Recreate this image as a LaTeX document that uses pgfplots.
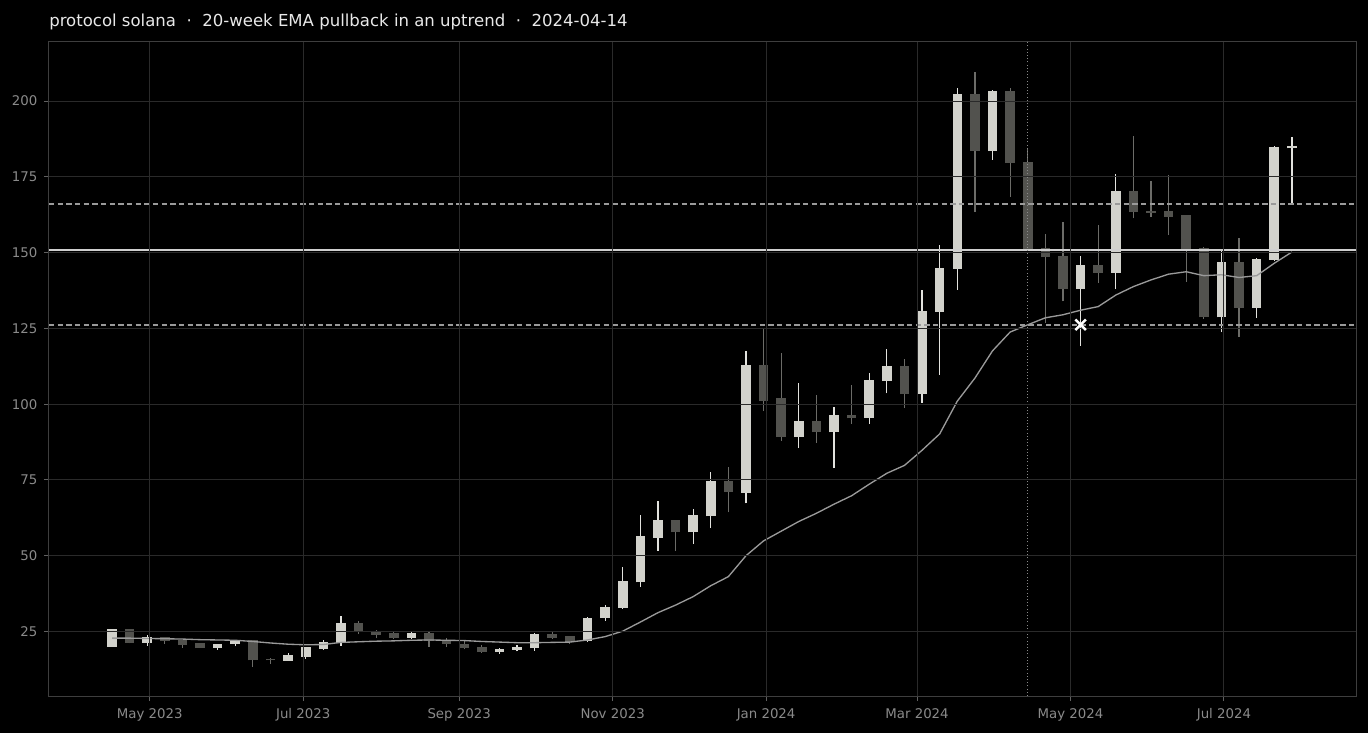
\documentclass[border=0pt]{standalone}
\usepackage{fontspec}
\setmainfont{DejaVu Sans}
\usepackage{pgfplots}
\usepackage{pgfplotstable}
\pgfplotsset{compat=1.18}
\definecolor{bgc}{HTML}{000000}
\definecolor{upc}{HTML}{D2D2CC}
\definecolor{upw}{HTML}{E2E2DE}
\definecolor{dnc}{HTML}{52524E}
\definecolor{dnw}{HTML}{6C6C68}
\definecolor{gridc}{HTML}{2A2A2A}
\definecolor{spinec}{HTML}{3E3E3E}
\definecolor{tickc}{HTML}{8A8A8A}
\definecolor{emac}{HTML}{9A9A9A}
\definecolor{refc}{HTML}{CFCFCF}
\definecolor{dashc}{HTML}{9A9A9A}
\definecolor{titlec}{HTML}{E8E8E8}

% week index, open, high, low, close  (up candles)
\pgfplotstableread{
i o h l c
0 20.0 25.9 20.0 25.7
2 21.3 23.9 20.3 23.1
6 19.5 21.0 18.9 21.0
7 20.8 22.2 20.1 22.1
10 15.4 17.8 15.4 17.1
11 16.6 20.0 16.0 19.9
12 19.3 22.2 18.9 21.6
13 21.3 30.0 20.3 27.7
17 23.0 25.1 22.5 24.5
22 18.2 19.6 17.6 19.1
23 18.9 20.5 18.4 19.9
24 19.4 24.6 18.6 24.1
27 21.7 29.9 21.5 29.4
28 29.4 33.8 28.6 33.0
29 32.7 46.2 32.5 41.6
30 41.2 63.4 39.8 56.4
31 56.0 67.9 51.7 61.7
33 57.7 65.3 53.8 63.4
34 63.0 77.6 59.1 74.7
36 70.8 117.4 67.3 112.9
39 89.1 106.9 85.5 94.4
41 90.7 99.2 78.9 96.4
43 95.4 110.4 93.4 108.0
44 107.6 118.2 103.6 112.5
46 103.3 137.6 100.4 130.7
47 130.5 152.5 109.7 144.9
48 144.7 204.3 137.7 202.3
50 183.5 203.5 180.6 203.2
55 138.0 149.0 119.3 145.9
57 143.4 175.9 138.0 170.4
63 128.6 150.8 123.8 146.9
65 131.7 148.3 128.4 147.9
66 147.5 185.2 147.3 184.8
67 184.4 188.1 166.1 185.1
}\upt

% down candles
\pgfplotstableread{
i o h l c
1 25.7 25.8 21.1 21.3
3 23.1 23.3 21.0 21.8
4 22.3 22.3 19.7 20.6
5 21.2 21.2 19.5 19.5
8 22.1 22.1 13.2 15.5
9 15.9 16.1 14.3 15.5
14 27.7 28.4 24.1 25.1
15 24.9 25.6 22.7 24.0
16 24.5 25.0 22.6 23.0
18 24.5 25.1 20.0 21.7
19 22.0 22.7 19.8 20.8
20 21.0 21.7 19.1 19.5
21 19.8 20.5 17.9 18.2
25 24.1 24.9 22.5 23.0
26 23.4 23.6 21.0 21.6
32 61.7 61.7 51.7 57.7
35 74.7 79.2 64.3 71.0
37 112.9 125.2 97.7 101.2
38 102.0 116.8 88.0 89.1
40 94.4 103.0 87.3 90.8
42 96.4 106.3 93.5 95.3
45 112.5 114.9 98.7 103.3
49 202.3 209.6 163.4 183.5
51 203.2 204.3 168.5 179.5
52 179.9 184.5 150.9 150.9
53 151.5 156.1 126.9 148.5
54 149.0 160.1 133.9 138.0
56 145.9 159.1 140.1 143.4
58 170.4 188.6 161.3 163.4
59 163.8 173.5 161.7 163.2
60 163.8 175.7 155.8 161.9
61 162.3 162.5 140.4 151.2
62 151.5 151.7 128.2 128.6
64 146.9 154.8 122.3 131.7
}\dnt

% 20-week EMA
\pgfplotstableread{
i e
0 22.8
1 22.8
2 22.7
3 22.6
4 22.5
5 22.3
6 22.2
7 22.1
8 21.7
9 21.2
10 20.8
11 20.6
12 20.7
13 21.4
14 21.6
15 21.8
16 21.9
17 22.1
18 22.2
19 22.1
20 22.0
21 21.7
22 21.5
23 21.3
24 21.3
25 21.4
26 21.5
27 22.2
28 23.3
29 25.1
30 28.1
31 31.2
32 33.7
33 36.5
34 40.1
35 43.1
36 50.0
37 54.9
38 58.1
39 61.3
40 64.0
41 67.0
42 69.8
43 73.6
44 77.2
45 79.8
46 84.8
47 90.2
48 101.0
49 108.6
50 117.6
51 123.8
52 126.2
53 128.5
54 129.5
55 131.0
56 132.2
57 136.0
58 138.8
59 141.0
60 142.9
61 143.7
62 142.4
63 142.7
64 141.8
65 142.4
66 146.5
67 150.2
}\emat

\begin{document}
\begin{tikzpicture}
\fill[bgc] (-36.75pt,-27.75pt) rectangle (989.25pt,522pt);
\begin{axis}[
  at={(0,0)}, anchor=south west,
  scale only axis,
  width=980.25pt, height=490.5pt,
  xmin=-3.578, xmax=70.64,
  ymin=3.71, ymax=219.5,
  axis on top,
  axis line style={spinec, line width=0.75pt},
  grid=major,
  major grid style={gridc, line width=0.75pt},
  tick align=outside,
  major tick length=3.75pt,
  tick style={tickc!70!black, line width=0.75pt},
  xtick pos=left, ytick pos=left,
  xtick={2.143,10.857,19.714,28.429,37.143,45.714,54.429,63.143},
  xticklabels={May 2023,Jul 2023,Sep 2023,Nov 2023,Jan 2024,Mar 2024,May 2024,Jul 2024},
  ytick={25,50,75,100,125,150,175,200},
  /pgf/number format/assume math mode=true,
  ticklabel style={font=\fontsize{10}{12}\selectfont, text=tickc},
  xticklabel style={yshift=-2.3pt, text height=7.6pt, text depth=2.4pt},
  yticklabel style={xshift=-1.4pt},
]
% wicks
\addplot[dnw, line width=0.9pt, quiver={u=0, v=\thisrow{h}-\thisrow{l}}] table[x=i, y=l] {\dnt};
\addplot[upw, line width=0.9pt, quiver={u=0, v=\thisrow{h}-\thisrow{l}}] table[x=i, y=l] {\upt};
% bodies
\addplot[dnc, line width=7.2pt, quiver={u=0, v=\thisrow{o}-\thisrow{c}}] table[x=i, y=c] {\dnt};
\addplot[upc, line width=7.2pt, quiver={u=0, v=\thisrow{c}-\thisrow{o}}] table[x=i, y=o] {\upt};
% EMA
\addplot[emac, line width=1pt] table[x=i, y=e] {\emat};
% reference levels
\addplot[refc, line width=1.5pt] coordinates {(-3.578,151) (70.64,151)};
\addplot[dashc, line width=1.1pt, dash pattern=on 4pt off 2.5pt] coordinates {(-3.578,166.1) (70.64,166.1)};
\addplot[dashc, line width=1.1pt, dash pattern=on 4pt off 2.5pt] coordinates {(-3.578,126.2) (70.64,126.2)};
\addplot[tickc, line width=0.8pt, dash pattern=on 0.8pt off 1.6pt] coordinates {(52,3.71) (52,219.5)};
% entry marker
\addplot[only marks, mark=x, mark size=5.6pt, mark options={white, line width=1.9pt}] coordinates {(55,126.2)};
\end{axis}
\node[anchor=base west, inner sep=0pt, text=titlec, font=\fontsize{12.4}{15}\selectfont]
  at ([yshift=11.7pt]current axis.north west)
  {protocol solana~~·~~20-week EMA pullback in an uptrend~~·~~2024-04-14};
\pgfresetboundingbox
\useasboundingbox (-36.75pt,-27.75pt) rectangle (989.25pt,522pt);
\end{tikzpicture}
\end{document}
